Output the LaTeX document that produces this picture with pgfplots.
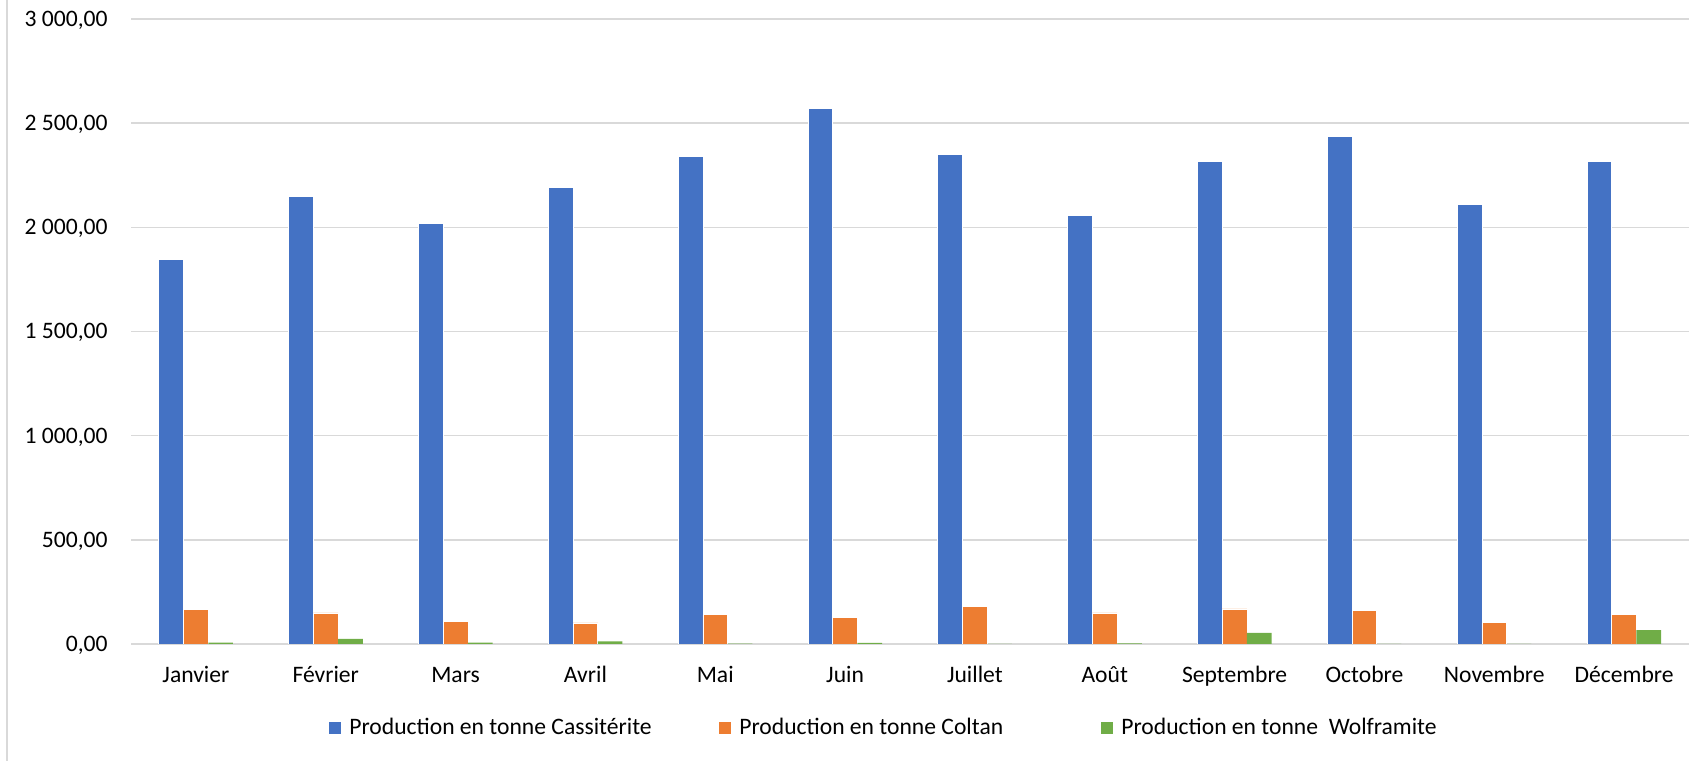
\documentclass[border=0pt]{standalone}
\usepackage{pgfplots}
\pgfplotsset{compat=1.18}
\usepackage{fontspec}
\setmainfont{Carlito}
\definecolor{cBlue}{HTML}{4472C4}
\definecolor{cOrange}{HTML}{ED7D31}
\definecolor{cGreen}{HTML}{70AD47}
\definecolor{cGrid}{HTML}{D9D9D9}
\begin{document}
\fontsize{11.8bp}{14bp}\selectfont
\begin{tikzpicture}
\useasboundingbox (0,0) rectangle (851.5bp,380.5bp);
\draw[cGrid, line width=1bp] (3.5bp,0) -- (3.5bp,380.5bp);
\begin{axis}[
  at={(65.5bp,58.5bp)}, anchor=south west,
  scale only axis, width=779bp, height=312.5bp,
  xmin=-0.5, xmax=11.5, ymin=0, ymax=3000,
  ybar=0pt, bar width=12.35bp,
  axis line style={draw=none},
  major tick length=0pt,
  ytick={0,500,1000,1500,2000,2500,3000},
  yticklabels={{0,00},{500,00},{1 000,00},{1 500,00},{2 000,00},{2 500,00},{3 000,00}},
  ymajorgrids, grid style={cGrid, line width=0.75bp},
  xtick={0,...,11},
  xticklabels={Janvier,Février,Mars,Avril,Mai,Juin,Juillet,Août,Septembre,Octobre,Novembre,Décembre},
  /pgf/number format/assume math mode=true,
  ticklabel style={font=\fontsize{11.8bp}{14bp}\selectfont, text=black},
  xticklabel style={anchor=base, yshift=-19.25bp},
  yticklabel style={anchor=base east, inner xsep=0pt, xshift=-11.5bp, yshift=-3.75bp},
  legend columns=3,
  legend style={draw=none, fill=none, inner sep=0pt, at={(0.1271,0)}, anchor=west, yshift=-42bp,
    font=\fontsize{11.8bp}{14bp}\selectfont,
    nodes={inner xsep=0pt, inner ysep=1bp}},
  legend image code/.code={\fill[#1,draw=none] (0bp,-3bp) rectangle (6bp,3bp);},
]
\draw[cGrid, line width=1.2bp] (rel axis cs:0,0) -- (rel axis cs:1,0);
\addplot[fill=cBlue, draw=white, line width=0.4bp] coordinates {
 (0,1846) (1,2148) (2,2018) (3,2190) (4,2340) (5,2570) (6,2350) (7,2059) (8,2315) (9,2435) (10,2111) (11,2315)};
\addlegendentry{\makebox[189bp][l]{\hspace{4bp}Production en tonne Cassitérite}}
\addplot[fill=cOrange, draw=white, line width=0.4bp] coordinates {
 (0,166) (1,149) (2,107) (3,101) (4,140) (5,129) (6,182) (7,149) (8,168) (9,160) (10,102) (11,140)};
\addlegendentry{\makebox[185bp][l]{\hspace{4bp}Production en tonne Coltan}}
\addplot[fill=cGreen, draw=none] coordinates {
 (0,6) (1,24) (2,7) (3,12) (4,2) (5,5) (6,0) (7,3) (8,53) (9,1) (10,0) (11,67)};
\addlegendentry{\hspace{4bp}Production en tonne\ \ Wolframite}
\end{axis}
\end{tikzpicture}
\end{document}
